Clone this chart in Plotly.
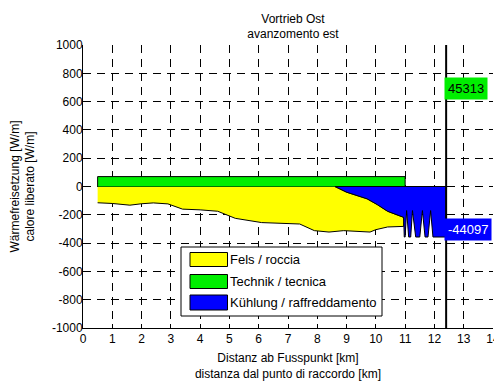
import plotly.graph_objects as go

# ---------------- data ----------------
series_names = ["Fels / roccia", "Technik / tecnica", "Kühlung / raffreddamento"]
series_colors = ["#ffff00", "#00ee00", "#0000ff"]

# Technik / tecnica (positive block)
technik_x = [0.5, 11.0]
technik_val = [70, 70]

# Kühlung / raffreddamento: lower boundary of the blue region
kuehl_x = [8.6, 9.0, 9.7, 10.05, 10.4, 10.95, 10.97, 11.0, 11.05, 11.12, 11.19,
           11.25, 11.36, 11.5, 11.59, 11.68, 11.78, 11.87, 11.95, 12.4]
kuehl_y = [0, -40, -87, -128, -175, -218, -357, -357, -170, -357, -357,
           -170, -357, -357, -170, -357, -357, -170, -357, -357]

# Fels / roccia: lower boundary of the yellow region
fels_x = [0.5, 1.0, 1.6, 2.0, 2.4, 2.9, 3.4, 4.0, 4.6, 5.2, 6.1, 7.4, 7.9,
          8.4, 8.9, 9.4, 9.8, 10.0, 10.4, 10.95]
fels_y = [-115, -120, -132, -122, -116, -123, -160, -165, -175, -225, -255,
          -265, -312, -322, -312, -317, -322, -305, -286, -282]

end_x = 12.4
max_label, max_val = "45313", 690
min_label, min_val = "-44097", -305

x_ticks = list(range(0, 15))
y_ticks = list(range(-1000, 1001, 200))
y_tick_labels = [str(v) for v in y_ticks]

# ---------------- figure ----------------
W, H = 494, 389
ML, MR, MT, MB = 83, 1, 45, 61
PW, PH = W - ML - MR, H - MT - MB

fig = go.Figure()

n_k = kuehl_x.index(10.95) + 1
top_x = [fels_x[0]] + kuehl_x[:n_k]
top_y = [0] + kuehl_y[:n_k]
fig.add_trace(go.Scatter(
    x=top_x + fels_x[::-1], y=top_y + fels_y[::-1],
    fill="toself", fillcolor=series_colors[0], mode="lines",
    line=dict(color="black", width=1), name=series_names[0], showlegend=False))

fig.add_trace(go.Scatter(
    x=[technik_x[0], technik_x[0], technik_x[1], technik_x[1]],
    y=[0, technik_val[0], technik_val[1], 0],
    fill="toself", fillcolor=series_colors[1], mode="lines",
    line=dict(color="black", width=1), name=series_names[1], showlegend=False))

fig.add_trace(go.Scatter(
    x=[kuehl_x[0], kuehl_x[-1]] + kuehl_x[::-1],
    y=[0, 0] + kuehl_y[::-1],
    fill="toself", fillcolor=series_colors[2], mode="lines",
    line=dict(color="black", width=1), name=series_names[2], showlegend=False))

fig.add_shape(type="line", xref="x", yref="y", x0=end_x, x1=end_x,
              y0=y_ticks[0], y1=y_ticks[-1], line=dict(color="black", width=2))

font = "Liberation Sans, Arial, sans-serif"

fig.add_annotation(x=end_x, y=max_val, xref="x", yref="y", text=max_label,
                   showarrow=False, xanchor="left", yanchor="middle", xshift=-2,
                   font=dict(family=font, size=13, color="black"),
                   bgcolor=series_colors[1], borderpad=3)
fig.add_annotation(x=end_x, y=min_val, xref="x", yref="y", text=min_label,
                   showarrow=False, xanchor="left", yanchor="middle", xshift=-2,
                   font=dict(family=font, size=13, color="white"),
                   bgcolor=series_colors[2], borderpad=3)

def px(xp):
    return (xp - ML) / PW

def py(yp):
    return (H - MB - yp) / PH

fig.add_shape(type="rect", xref="paper", yref="paper",
              x0=px(181), x1=px(382), y0=py(316), y1=py(247),
              fillcolor="white", line=dict(color="black", width=1), layer="above")
rows = [(252.5, 266.5), (274.5, 288.5), (295, 310)]
for (y0, y1), name, col in zip(rows, series_names, series_colors):
    fig.add_shape(type="rect", xref="paper", yref="paper",
                  x0=px(190), x1=px(227.5), y0=py(y1), y1=py(y0),
                  fillcolor=col, line=dict(color="black", width=1), layer="above")
    fig.add_annotation(x=px(228), y=py((y0 + y1) / 2), xref="paper", yref="paper",
                       text=name, showarrow=False, xanchor="left", yanchor="middle",
                       font=dict(family=font, size=13, color="black"))

fig.update_layout(
    width=W, height=H,
    margin=dict(l=ML, r=MR, t=MT, b=MB, autoexpand=False),
    paper_bgcolor="white", plot_bgcolor="white",
    font=dict(family=font, size=12, color="black"),
    title=dict(text="Vortrieb Ost<br>avanzomento est", x=px(293), xref="paper",
               xanchor="center", y=(H - 22.5) / H, yanchor="middle",
               font=dict(size=12), automargin=False),
    showlegend=False,
)
grid = dict(showgrid=True, gridcolor="black", gridwidth=1, griddash="8px,6px",
            zeroline=False, showline=True, linecolor="black", linewidth=1,
            ticks="inside", ticklen=4, tickcolor="black", automargin=False,
            ticklabeloverflow="allow", tickfont=dict(size=12, family=font))
fig.update_xaxes(range=[0, 14], tickvals=x_ticks, **grid,
                 title=dict(text="Distanz ab Fusspunkt [km]<br>distanza dal punto di raccordo [km]",
                            standoff=8, font=dict(size=12)))
fig.update_yaxes(range=[-1000, 1000], tickvals=y_ticks, ticktext=y_tick_labels, **grid,
                 ticklabelstandoff=-3,
                 title=dict(text="Wärmefreisetzung [W/m]<br>calore liberato [W/m]",
                            standoff=14, font=dict(size=12)))

fig.write_html("out.html", config={"responsive": False, "displayModeBar": False},
               post_script="document.body.style.margin='0';document.body.style.overflow='hidden';")
